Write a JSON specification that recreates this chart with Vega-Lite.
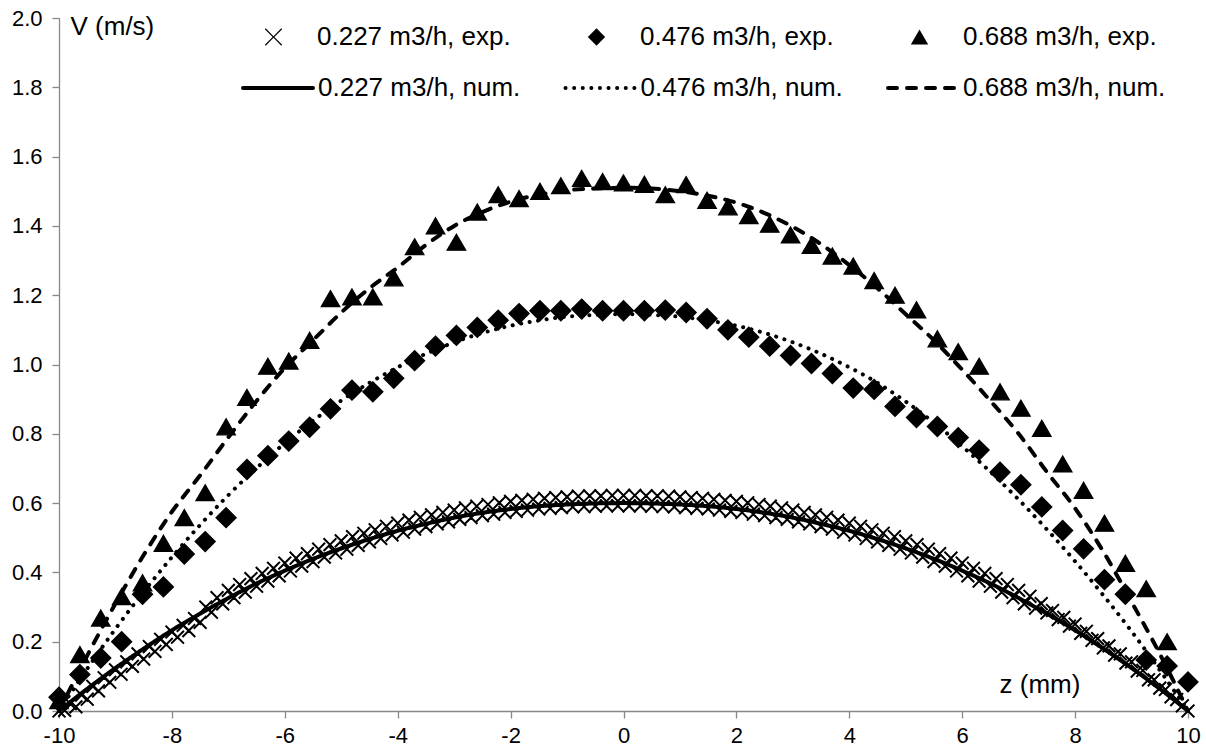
{
"$schema": "https://vega.github.io/schema/vega-lite/v6.json",
"width": 1129, "height": 693,
"autosize": {"type": "none"},
"padding": {"left": 59, "top": 18, "right": 18, "bottom": 36},
"background": "white",
"config": {
  "font": "Liberation Sans",
  "view": {"stroke": null},
  "axis": {"grid": false, "domainColor": "#888888", "domainWidth": 1.3, "tickColor": "#888888", "tickWidth": 1.3, "tickSize": 7, "labelFontSize": 22, "labelColor": "#000000", "labelFlush": false, "labelOverlap": false, "titleFontSize": 26, "titleFontWeight": "normal", "titleColor": "#000000", "titleAngle": 0, "titleAlign": "left", "titleBaseline": "alphabetic"},
  "legend": {"labelFontSize": 26, "labelColor": "#000000", "labelLimit": 400, "padding": 0, "title": null}
},
"datasets": {
"num": [
{"z":-10,"v":0,"curve":"0.227 m3/h, num."},{"z":-9.5,"v":0.064,"curve":"0.227 m3/h, num."},{"z":-9,"v":0.124,"curve":"0.227 m3/h, num."},{"z":-8.5,"v":0.18,"curve":"0.227 m3/h, num."},{"z":-8,"v":0.233,"curve":"0.227 m3/h, num."},{"z":-7.5,"v":0.281,"curve":"0.227 m3/h, num."},{"z":-7,"v":0.326,"curve":"0.227 m3/h, num."},{"z":-6.5,"v":0.368,"curve":"0.227 m3/h, num."},{"z":-6,"v":0.405,"curve":"0.227 m3/h, num."},{"z":-5.5,"v":0.439,"curve":"0.227 m3/h, num."},{"z":-5,"v":0.469,"curve":"0.227 m3/h, num."},{"z":-4.5,"v":0.496,"curve":"0.227 m3/h, num."},{"z":-4,"v":0.52,"curve":"0.227 m3/h, num."},{"z":-3.5,"v":0.54,"curve":"0.227 m3/h, num."},{"z":-3,"v":0.558,"curve":"0.227 m3/h, num."},{"z":-2.5,"v":0.572,"curve":"0.227 m3/h, num."},{"z":-2,"v":0.583,"curve":"0.227 m3/h, num."},{"z":-1.5,"v":0.591,"curve":"0.227 m3/h, num."},{"z":-1,"v":0.596,"curve":"0.227 m3/h, num."},{"z":-0.5,"v":0.599,"curve":"0.227 m3/h, num."},{"z":0,"v":0.6,"curve":"0.227 m3/h, num."},{"z":0.5,"v":0.599,"curve":"0.227 m3/h, num."},{"z":1,"v":0.596,"curve":"0.227 m3/h, num."},{"z":1.5,"v":0.591,"curve":"0.227 m3/h, num."},{"z":2,"v":0.583,"curve":"0.227 m3/h, num."},{"z":2.5,"v":0.572,"curve":"0.227 m3/h, num."},{"z":3,"v":0.558,"curve":"0.227 m3/h, num."},{"z":3.5,"v":0.54,"curve":"0.227 m3/h, num."},{"z":4,"v":0.52,"curve":"0.227 m3/h, num."},{"z":4.5,"v":0.496,"curve":"0.227 m3/h, num."},{"z":5,"v":0.469,"curve":"0.227 m3/h, num."},{"z":5.5,"v":0.439,"curve":"0.227 m3/h, num."},{"z":6,"v":0.405,"curve":"0.227 m3/h, num."},{"z":6.5,"v":0.368,"curve":"0.227 m3/h, num."},{"z":7,"v":0.326,"curve":"0.227 m3/h, num."},{"z":7.5,"v":0.281,"curve":"0.227 m3/h, num."},{"z":8,"v":0.233,"curve":"0.227 m3/h, num."},{"z":8.5,"v":0.18,"curve":"0.227 m3/h, num."},{"z":9,"v":0.124,"curve":"0.227 m3/h, num."},{"z":9.5,"v":0.064,"curve":"0.227 m3/h, num."},{"z":10,"v":0,"curve":"0.227 m3/h, num."},
{"z":-10,"v":0,"curve":"0.476 m3/h, num."},{"z":-9.5,"v":0.122,"curve":"0.476 m3/h, num."},{"z":-9,"v":0.237,"curve":"0.476 m3/h, num."},{"z":-8.5,"v":0.344,"curve":"0.476 m3/h, num."},{"z":-8,"v":0.444,"curve":"0.476 m3/h, num."},{"z":-7.5,"v":0.537,"curve":"0.476 m3/h, num."},{"z":-7,"v":0.623,"curve":"0.476 m3/h, num."},{"z":-6.5,"v":0.701,"curve":"0.476 m3/h, num."},{"z":-6,"v":0.773,"curve":"0.476 m3/h, num."},{"z":-5.5,"v":0.838,"curve":"0.476 m3/h, num."},{"z":-5,"v":0.896,"curve":"0.476 m3/h, num."},{"z":-4.5,"v":0.947,"curve":"0.476 m3/h, num."},{"z":-4,"v":0.992,"curve":"0.476 m3/h, num."},{"z":-3.5,"v":1.031,"curve":"0.476 m3/h, num."},{"z":-3,"v":1.064,"curve":"0.476 m3/h, num."},{"z":-2.5,"v":1.091,"curve":"0.476 m3/h, num."},{"z":-2,"v":1.112,"curve":"0.476 m3/h, num."},{"z":-1.5,"v":1.127,"curve":"0.476 m3/h, num."},{"z":-1,"v":1.138,"curve":"0.476 m3/h, num."},{"z":-0.5,"v":1.143,"curve":"0.476 m3/h, num."},{"z":0,"v":1.145,"curve":"0.476 m3/h, num."},{"z":0.5,"v":1.143,"curve":"0.476 m3/h, num."},{"z":1,"v":1.138,"curve":"0.476 m3/h, num."},{"z":1.5,"v":1.127,"curve":"0.476 m3/h, num."},{"z":2,"v":1.112,"curve":"0.476 m3/h, num."},{"z":2.5,"v":1.091,"curve":"0.476 m3/h, num."},{"z":3,"v":1.064,"curve":"0.476 m3/h, num."},{"z":3.5,"v":1.031,"curve":"0.476 m3/h, num."},{"z":4,"v":0.992,"curve":"0.476 m3/h, num."},{"z":4.5,"v":0.947,"curve":"0.476 m3/h, num."},{"z":5,"v":0.893,"curve":"0.476 m3/h, num."},{"z":5.5,"v":0.832,"curve":"0.476 m3/h, num."},{"z":6,"v":0.764,"curve":"0.476 m3/h, num."},{"z":6.5,"v":0.69,"curve":"0.476 m3/h, num."},{"z":7,"v":0.61,"curve":"0.476 m3/h, num."},{"z":7.5,"v":0.524,"curve":"0.476 m3/h, num."},{"z":8,"v":0.432,"curve":"0.476 m3/h, num."},{"z":8.5,"v":0.334,"curve":"0.476 m3/h, num."},{"z":9,"v":0.23,"curve":"0.476 m3/h, num."},{"z":9.5,"v":0.118,"curve":"0.476 m3/h, num."},{"z":10,"v":0,"curve":"0.476 m3/h, num."},
{"z":-10,"v":0,"curve":"0.688 m3/h, num."},{"z":-9.5,"v":0.16,"curve":"0.688 m3/h, num."},{"z":-9,"v":0.31,"curve":"0.688 m3/h, num."},{"z":-8.5,"v":0.45,"curve":"0.688 m3/h, num."},{"z":-8,"v":0.575,"curve":"0.688 m3/h, num."},{"z":-7.5,"v":0.68,"curve":"0.688 m3/h, num."},{"z":-7,"v":0.79,"curve":"0.688 m3/h, num."},{"z":-6.5,"v":0.895,"curve":"0.688 m3/h, num."},{"z":-6,"v":0.99,"curve":"0.688 m3/h, num."},{"z":-5.5,"v":1.07,"curve":"0.688 m3/h, num."},{"z":-5,"v":1.15,"curve":"0.688 m3/h, num."},{"z":-4.5,"v":1.22,"curve":"0.688 m3/h, num."},{"z":-4,"v":1.28,"curve":"0.688 m3/h, num."},{"z":-3.5,"v":1.345,"curve":"0.688 m3/h, num."},{"z":-3,"v":1.4,"curve":"0.688 m3/h, num."},{"z":-2.5,"v":1.44,"curve":"0.688 m3/h, num."},{"z":-2,"v":1.47,"curve":"0.688 m3/h, num."},{"z":-1.5,"v":1.49,"curve":"0.688 m3/h, num."},{"z":-1,"v":1.503,"curve":"0.688 m3/h, num."},{"z":-0.5,"v":1.508,"curve":"0.688 m3/h, num."},{"z":0,"v":1.51,"curve":"0.688 m3/h, num."},{"z":0.5,"v":1.508,"curve":"0.688 m3/h, num."},{"z":1,"v":1.5,"curve":"0.688 m3/h, num."},{"z":1.5,"v":1.487,"curve":"0.688 m3/h, num."},{"z":2,"v":1.467,"curve":"0.688 m3/h, num."},{"z":2.5,"v":1.437,"curve":"0.688 m3/h, num."},{"z":3,"v":1.397,"curve":"0.688 m3/h, num."},{"z":3.5,"v":1.347,"curve":"0.688 m3/h, num."},{"z":4,"v":1.287,"curve":"0.688 m3/h, num."},{"z":4.5,"v":1.22,"curve":"0.688 m3/h, num."},{"z":5,"v":1.145,"curve":"0.688 m3/h, num."},{"z":5.5,"v":1.07,"curve":"0.688 m3/h, num."},{"z":6,"v":0.985,"curve":"0.688 m3/h, num."},{"z":6.5,"v":0.895,"curve":"0.688 m3/h, num."},{"z":7,"v":0.8,"curve":"0.688 m3/h, num."},{"z":7.5,"v":0.69,"curve":"0.688 m3/h, num."},{"z":8,"v":0.585,"curve":"0.688 m3/h, num."},{"z":8.5,"v":0.46,"curve":"0.688 m3/h, num."},{"z":9,"v":0.315,"curve":"0.688 m3/h, num."},{"z":9.5,"v":0.165,"curve":"0.688 m3/h, num."},{"z":10,"v":0,"curve":"0.688 m3/h, num."}
],
"exp": [
{"z":-10,"v":0,"profile":"0.227 m3/h, exp."},{"z":-9.9,"v":0.002,"profile":"0.227 m3/h, exp."},{"z":-9.8,"v":0.021,"profile":"0.227 m3/h, exp."},{"z":-9.7,"v":0.012,"profile":"0.227 m3/h, exp."},{"z":-9.6,"v":0.046,"profile":"0.227 m3/h, exp."},{"z":-9.5,"v":0.034,"profile":"0.227 m3/h, exp."},{"z":-9.4,"v":0.071,"profile":"0.227 m3/h, exp."},{"z":-9.3,"v":0.058,"profile":"0.227 m3/h, exp."},{"z":-9.2,"v":0.096,"profile":"0.227 m3/h, exp."},{"z":-9.1,"v":0.083,"profile":"0.227 m3/h, exp."},{"z":-9,"v":0.119,"profile":"0.227 m3/h, exp."},{"z":-8.9,"v":0.106,"profile":"0.227 m3/h, exp."},{"z":-8.8,"v":0.142,"profile":"0.227 m3/h, exp."},{"z":-8.7,"v":0.129,"profile":"0.227 m3/h, exp."},{"z":-8.6,"v":0.165,"profile":"0.227 m3/h, exp."},{"z":-8.5,"v":0.15,"profile":"0.227 m3/h, exp."},{"z":-8.4,"v":0.186,"profile":"0.227 m3/h, exp."},{"z":-8.3,"v":0.172,"profile":"0.227 m3/h, exp."},{"z":-8.2,"v":0.207,"profile":"0.227 m3/h, exp."},{"z":-8.1,"v":0.192,"profile":"0.227 m3/h, exp."},{"z":-8,"v":0.228,"profile":"0.227 m3/h, exp."},{"z":-7.9,"v":0.213,"profile":"0.227 m3/h, exp."},{"z":-7.8,"v":0.247,"profile":"0.227 m3/h, exp."},{"z":-7.7,"v":0.232,"profile":"0.227 m3/h, exp."},{"z":-7.6,"v":0.267,"profile":"0.227 m3/h, exp."},{"z":-7.5,"v":0.256,"profile":"0.227 m3/h, exp."},{"z":-7.4,"v":0.3,"profile":"0.227 m3/h, exp."},{"z":-7.3,"v":0.285,"profile":"0.227 m3/h, exp."},{"z":-7.2,"v":0.327,"profile":"0.227 m3/h, exp."},{"z":-7.1,"v":0.309,"profile":"0.227 m3/h, exp."},{"z":-7,"v":0.348,"profile":"0.227 m3/h, exp."},{"z":-6.9,"v":0.327,"profile":"0.227 m3/h, exp."},{"z":-6.8,"v":0.365,"profile":"0.227 m3/h, exp."},{"z":-6.7,"v":0.343,"profile":"0.227 m3/h, exp."},{"z":-6.6,"v":0.382,"profile":"0.227 m3/h, exp."},{"z":-6.5,"v":0.36,"profile":"0.227 m3/h, exp."},{"z":-6.4,"v":0.397,"profile":"0.227 m3/h, exp."},{"z":-6.3,"v":0.375,"profile":"0.227 m3/h, exp."},{"z":-6.2,"v":0.412,"profile":"0.227 m3/h, exp."},{"z":-6.1,"v":0.39,"profile":"0.227 m3/h, exp."},{"z":-6,"v":0.427,"profile":"0.227 m3/h, exp."},{"z":-5.9,"v":0.404,"profile":"0.227 m3/h, exp."},{"z":-5.8,"v":0.441,"profile":"0.227 m3/h, exp."},{"z":-5.7,"v":0.418,"profile":"0.227 m3/h, exp."},{"z":-5.6,"v":0.454,"profile":"0.227 m3/h, exp."},{"z":-5.5,"v":0.431,"profile":"0.227 m3/h, exp."},{"z":-5.4,"v":0.467,"profile":"0.227 m3/h, exp."},{"z":-5.3,"v":0.444,"profile":"0.227 m3/h, exp."},{"z":-5.2,"v":0.48,"profile":"0.227 m3/h, exp."},{"z":-5.1,"v":0.456,"profile":"0.227 m3/h, exp."},{"z":-5,"v":0.491,"profile":"0.227 m3/h, exp."},{"z":-4.9,"v":0.467,"profile":"0.227 m3/h, exp."},{"z":-4.8,"v":0.503,"profile":"0.227 m3/h, exp."},{"z":-4.7,"v":0.478,"profile":"0.227 m3/h, exp."},{"z":-4.6,"v":0.513,"profile":"0.227 m3/h, exp."},{"z":-4.5,"v":0.488,"profile":"0.227 m3/h, exp."},{"z":-4.4,"v":0.523,"profile":"0.227 m3/h, exp."},{"z":-4.3,"v":0.498,"profile":"0.227 m3/h, exp."},{"z":-4.2,"v":0.533,"profile":"0.227 m3/h, exp."},{"z":-4.1,"v":0.508,"profile":"0.227 m3/h, exp."},{"z":-4,"v":0.542,"profile":"0.227 m3/h, exp."},{"z":-3.9,"v":0.516,"profile":"0.227 m3/h, exp."},{"z":-3.8,"v":0.551,"profile":"0.227 m3/h, exp."},{"z":-3.7,"v":0.525,"profile":"0.227 m3/h, exp."},{"z":-3.6,"v":0.559,"profile":"0.227 m3/h, exp."},{"z":-3.5,"v":0.532,"profile":"0.227 m3/h, exp."},{"z":-3.4,"v":0.566,"profile":"0.227 m3/h, exp."},{"z":-3.3,"v":0.54,"profile":"0.227 m3/h, exp."},{"z":-3.2,"v":0.573,"profile":"0.227 m3/h, exp."},{"z":-3.1,"v":0.546,"profile":"0.227 m3/h, exp."},{"z":-3,"v":0.58,"profile":"0.227 m3/h, exp."},{"z":-2.9,"v":0.553,"profile":"0.227 m3/h, exp."},{"z":-2.8,"v":0.586,"profile":"0.227 m3/h, exp."},{"z":-2.7,"v":0.558,"profile":"0.227 m3/h, exp."},{"z":-2.6,"v":0.591,"profile":"0.227 m3/h, exp."},{"z":-2.5,"v":0.564,"profile":"0.227 m3/h, exp."},{"z":-2.4,"v":0.596,"profile":"0.227 m3/h, exp."},{"z":-2.3,"v":0.568,"profile":"0.227 m3/h, exp."},{"z":-2.2,"v":0.601,"profile":"0.227 m3/h, exp."},{"z":-2.1,"v":0.573,"profile":"0.227 m3/h, exp."},{"z":-2,"v":0.605,"profile":"0.227 m3/h, exp."},{"z":-1.9,"v":0.576,"profile":"0.227 m3/h, exp."},{"z":-1.8,"v":0.608,"profile":"0.227 m3/h, exp."},{"z":-1.7,"v":0.58,"profile":"0.227 m3/h, exp."},{"z":-1.6,"v":0.611,"profile":"0.227 m3/h, exp."},{"z":-1.5,"v":0.583,"profile":"0.227 m3/h, exp."},{"z":-1.4,"v":0.614,"profile":"0.227 m3/h, exp."},{"z":-1.3,"v":0.585,"profile":"0.227 m3/h, exp."},{"z":-1.2,"v":0.616,"profile":"0.227 m3/h, exp."},{"z":-1.1,"v":0.587,"profile":"0.227 m3/h, exp."},{"z":-1,"v":0.618,"profile":"0.227 m3/h, exp."},{"z":-0.9,"v":0.589,"profile":"0.227 m3/h, exp."},{"z":-0.8,"v":0.62,"profile":"0.227 m3/h, exp."},{"z":-0.7,"v":0.59,"profile":"0.227 m3/h, exp."},{"z":-0.6,"v":0.621,"profile":"0.227 m3/h, exp."},{"z":-0.5,"v":0.591,"profile":"0.227 m3/h, exp."},{"z":-0.4,"v":0.621,"profile":"0.227 m3/h, exp."},{"z":-0.3,"v":0.592,"profile":"0.227 m3/h, exp."},{"z":-0.2,"v":0.622,"profile":"0.227 m3/h, exp."},{"z":-0.1,"v":0.592,"profile":"0.227 m3/h, exp."},{"z":0,"v":0.622,"profile":"0.227 m3/h, exp."},{"z":0.1,"v":0.592,"profile":"0.227 m3/h, exp."},{"z":0.2,"v":0.622,"profile":"0.227 m3/h, exp."},{"z":0.3,"v":0.592,"profile":"0.227 m3/h, exp."},{"z":0.4,"v":0.621,"profile":"0.227 m3/h, exp."},{"z":0.5,"v":0.591,"profile":"0.227 m3/h, exp."},{"z":0.6,"v":0.621,"profile":"0.227 m3/h, exp."},{"z":0.7,"v":0.59,"profile":"0.227 m3/h, exp."},{"z":0.8,"v":0.62,"profile":"0.227 m3/h, exp."},{"z":0.9,"v":0.589,"profile":"0.227 m3/h, exp."},{"z":1,"v":0.618,"profile":"0.227 m3/h, exp."},{"z":1.1,"v":0.587,"profile":"0.227 m3/h, exp."},{"z":1.2,"v":0.616,"profile":"0.227 m3/h, exp."},{"z":1.3,"v":0.585,"profile":"0.227 m3/h, exp."},{"z":1.4,"v":0.614,"profile":"0.227 m3/h, exp."},{"z":1.5,"v":0.583,"profile":"0.227 m3/h, exp."},{"z":1.6,"v":0.611,"profile":"0.227 m3/h, exp."},{"z":1.7,"v":0.58,"profile":"0.227 m3/h, exp."},{"z":1.8,"v":0.608,"profile":"0.227 m3/h, exp."},{"z":1.9,"v":0.576,"profile":"0.227 m3/h, exp."},{"z":2,"v":0.605,"profile":"0.227 m3/h, exp."},{"z":2.1,"v":0.573,"profile":"0.227 m3/h, exp."},{"z":2.2,"v":0.601,"profile":"0.227 m3/h, exp."},{"z":2.3,"v":0.568,"profile":"0.227 m3/h, exp."},{"z":2.4,"v":0.596,"profile":"0.227 m3/h, exp."},{"z":2.5,"v":0.564,"profile":"0.227 m3/h, exp."},{"z":2.6,"v":0.591,"profile":"0.227 m3/h, exp."},{"z":2.7,"v":0.558,"profile":"0.227 m3/h, exp."},{"z":2.8,"v":0.586,"profile":"0.227 m3/h, exp."},{"z":2.9,"v":0.553,"profile":"0.227 m3/h, exp."},{"z":3,"v":0.58,"profile":"0.227 m3/h, exp."},{"z":3.1,"v":0.546,"profile":"0.227 m3/h, exp."},{"z":3.2,"v":0.573,"profile":"0.227 m3/h, exp."},{"z":3.3,"v":0.54,"profile":"0.227 m3/h, exp."},{"z":3.4,"v":0.566,"profile":"0.227 m3/h, exp."},{"z":3.5,"v":0.532,"profile":"0.227 m3/h, exp."},{"z":3.6,"v":0.559,"profile":"0.227 m3/h, exp."},{"z":3.7,"v":0.525,"profile":"0.227 m3/h, exp."},{"z":3.8,"v":0.551,"profile":"0.227 m3/h, exp."},{"z":3.9,"v":0.516,"profile":"0.227 m3/h, exp."},{"z":4,"v":0.542,"profile":"0.227 m3/h, exp."},{"z":4.1,"v":0.508,"profile":"0.227 m3/h, exp."},{"z":4.2,"v":0.533,"profile":"0.227 m3/h, exp."},{"z":4.3,"v":0.498,"profile":"0.227 m3/h, exp."},{"z":4.4,"v":0.523,"profile":"0.227 m3/h, exp."},{"z":4.5,"v":0.488,"profile":"0.227 m3/h, exp."},{"z":4.6,"v":0.513,"profile":"0.227 m3/h, exp."},{"z":4.7,"v":0.478,"profile":"0.227 m3/h, exp."},{"z":4.8,"v":0.503,"profile":"0.227 m3/h, exp."},{"z":4.9,"v":0.467,"profile":"0.227 m3/h, exp."},{"z":5,"v":0.491,"profile":"0.227 m3/h, exp."},{"z":5.1,"v":0.456,"profile":"0.227 m3/h, exp."},{"z":5.2,"v":0.48,"profile":"0.227 m3/h, exp."},{"z":5.3,"v":0.444,"profile":"0.227 m3/h, exp."},{"z":5.4,"v":0.467,"profile":"0.227 m3/h, exp."},{"z":5.5,"v":0.431,"profile":"0.227 m3/h, exp."},{"z":5.6,"v":0.454,"profile":"0.227 m3/h, exp."},{"z":5.7,"v":0.418,"profile":"0.227 m3/h, exp."},{"z":5.8,"v":0.441,"profile":"0.227 m3/h, exp."},{"z":5.9,"v":0.404,"profile":"0.227 m3/h, exp."},{"z":6,"v":0.427,"profile":"0.227 m3/h, exp."},{"z":6.1,"v":0.39,"profile":"0.227 m3/h, exp."},{"z":6.2,"v":0.412,"profile":"0.227 m3/h, exp."},{"z":6.3,"v":0.375,"profile":"0.227 m3/h, exp."},{"z":6.4,"v":0.397,"profile":"0.227 m3/h, exp."},{"z":6.5,"v":0.36,"profile":"0.227 m3/h, exp."},{"z":6.6,"v":0.382,"profile":"0.227 m3/h, exp."},{"z":6.7,"v":0.343,"profile":"0.227 m3/h, exp."},{"z":6.8,"v":0.365,"profile":"0.227 m3/h, exp."},{"z":6.9,"v":0.327,"profile":"0.227 m3/h, exp."},{"z":7,"v":0.348,"profile":"0.227 m3/h, exp."},{"z":7.1,"v":0.309,"profile":"0.227 m3/h, exp."},{"z":7.2,"v":0.331,"profile":"0.227 m3/h, exp."},{"z":7.3,"v":0.297,"profile":"0.227 m3/h, exp."},{"z":7.4,"v":0.31,"profile":"0.227 m3/h, exp."},{"z":7.5,"v":0.283,"profile":"0.227 m3/h, exp."},{"z":7.6,"v":0.29,"profile":"0.227 m3/h, exp."},{"z":7.7,"v":0.264,"profile":"0.227 m3/h, exp."},{"z":7.8,"v":0.27,"profile":"0.227 m3/h, exp."},{"z":7.9,"v":0.245,"profile":"0.227 m3/h, exp."},{"z":8,"v":0.251,"profile":"0.227 m3/h, exp."},{"z":8.1,"v":0.224,"profile":"0.227 m3/h, exp."},{"z":8.2,"v":0.23,"profile":"0.227 m3/h, exp."},{"z":8.3,"v":0.204,"profile":"0.227 m3/h, exp."},{"z":8.4,"v":0.209,"profile":"0.227 m3/h, exp."},{"z":8.5,"v":0.182,"profile":"0.227 m3/h, exp."},{"z":8.6,"v":0.188,"profile":"0.227 m3/h, exp."},{"z":8.7,"v":0.161,"profile":"0.227 m3/h, exp."},{"z":8.8,"v":0.165,"profile":"0.227 m3/h, exp."},{"z":8.9,"v":0.138,"profile":"0.227 m3/h, exp."},{"z":9,"v":0.142,"profile":"0.227 m3/h, exp."},{"z":9.1,"v":0.115,"profile":"0.227 m3/h, exp."},{"z":9.2,"v":0.117,"profile":"0.227 m3/h, exp."},{"z":9.3,"v":0.09,"profile":"0.227 m3/h, exp."},{"z":9.4,"v":0.09,"profile":"0.227 m3/h, exp."},{"z":9.5,"v":0.066,"profile":"0.227 m3/h, exp."},{"z":9.6,"v":0.062,"profile":"0.227 m3/h, exp."},{"z":9.7,"v":0.041,"profile":"0.227 m3/h, exp."},{"z":9.8,"v":0.033,"profile":"0.227 m3/h, exp."},{"z":9.9,"v":0.015,"profile":"0.227 m3/h, exp."},{"z":10,"v":0,"profile":"0.227 m3/h, exp."},
{"z":-10,"v":0.04,"profile":"0.476 m3/h, exp."},{"z":-9.63,"v":0.105,"profile":"0.476 m3/h, exp."},{"z":-9.26,"v":0.153,"profile":"0.476 m3/h, exp."},{"z":-8.89,"v":0.2,"profile":"0.476 m3/h, exp."},{"z":-8.52,"v":0.337,"profile":"0.476 m3/h, exp."},{"z":-8.15,"v":0.358,"profile":"0.476 m3/h, exp."},{"z":-7.78,"v":0.453,"profile":"0.476 m3/h, exp."},{"z":-7.41,"v":0.489,"profile":"0.476 m3/h, exp."},{"z":-7.04,"v":0.558,"profile":"0.476 m3/h, exp."},{"z":-6.67,"v":0.697,"profile":"0.476 m3/h, exp."},{"z":-6.3,"v":0.737,"profile":"0.476 m3/h, exp."},{"z":-5.93,"v":0.779,"profile":"0.476 m3/h, exp."},{"z":-5.56,"v":0.819,"profile":"0.476 m3/h, exp."},{"z":-5.19,"v":0.872,"profile":"0.476 m3/h, exp."},{"z":-4.81,"v":0.926,"profile":"0.476 m3/h, exp."},{"z":-4.44,"v":0.921,"profile":"0.476 m3/h, exp."},{"z":-4.07,"v":0.96,"profile":"0.476 m3/h, exp."},{"z":-3.7,"v":1.011,"profile":"0.476 m3/h, exp."},{"z":-3.33,"v":1.053,"profile":"0.476 m3/h, exp."},{"z":-2.96,"v":1.084,"profile":"0.476 m3/h, exp."},{"z":-2.59,"v":1.107,"profile":"0.476 m3/h, exp."},{"z":-2.22,"v":1.128,"profile":"0.476 m3/h, exp."},{"z":-1.85,"v":1.147,"profile":"0.476 m3/h, exp."},{"z":-1.48,"v":1.155,"profile":"0.476 m3/h, exp."},{"z":-1.11,"v":1.155,"profile":"0.476 m3/h, exp."},{"z":-0.74,"v":1.16,"profile":"0.476 m3/h, exp."},{"z":-0.37,"v":1.155,"profile":"0.476 m3/h, exp."},{"z":0,"v":1.155,"profile":"0.476 m3/h, exp."},{"z":0.37,"v":1.155,"profile":"0.476 m3/h, exp."},{"z":0.74,"v":1.157,"profile":"0.476 m3/h, exp."},{"z":1.11,"v":1.15,"profile":"0.476 m3/h, exp."},{"z":1.48,"v":1.132,"profile":"0.476 m3/h, exp."},{"z":1.85,"v":1.1,"profile":"0.476 m3/h, exp."},{"z":2.22,"v":1.079,"profile":"0.476 m3/h, exp."},{"z":2.59,"v":1.053,"profile":"0.476 m3/h, exp."},{"z":2.96,"v":1.026,"profile":"0.476 m3/h, exp."},{"z":3.33,"v":1.003,"profile":"0.476 m3/h, exp."},{"z":3.7,"v":0.974,"profile":"0.476 m3/h, exp."},{"z":4.07,"v":0.932,"profile":"0.476 m3/h, exp."},{"z":4.44,"v":0.928,"profile":"0.476 m3/h, exp."},{"z":4.81,"v":0.879,"profile":"0.476 m3/h, exp."},{"z":5.19,"v":0.847,"profile":"0.476 m3/h, exp."},{"z":5.56,"v":0.821,"profile":"0.476 m3/h, exp."},{"z":5.93,"v":0.789,"profile":"0.476 m3/h, exp."},{"z":6.3,"v":0.753,"profile":"0.476 m3/h, exp."},{"z":6.67,"v":0.689,"profile":"0.476 m3/h, exp."},{"z":7.04,"v":0.653,"profile":"0.476 m3/h, exp."},{"z":7.41,"v":0.589,"profile":"0.476 m3/h, exp."},{"z":7.78,"v":0.521,"profile":"0.476 m3/h, exp."},{"z":8.15,"v":0.468,"profile":"0.476 m3/h, exp."},{"z":8.52,"v":0.379,"profile":"0.476 m3/h, exp."},{"z":8.89,"v":0.337,"profile":"0.476 m3/h, exp."},{"z":9.26,"v":0.147,"profile":"0.476 m3/h, exp."},{"z":9.63,"v":0.13,"profile":"0.476 m3/h, exp."},{"z":10,"v":0.084,"profile":"0.476 m3/h, exp."},
{"z":-10,"v":0.03,"profile":"0.688 m3/h, exp."},{"z":-9.63,"v":0.163,"profile":"0.688 m3/h, exp."},{"z":-9.26,"v":0.268,"profile":"0.688 m3/h, exp."},{"z":-8.89,"v":0.33,"profile":"0.688 m3/h, exp."},{"z":-8.52,"v":0.37,"profile":"0.688 m3/h, exp."},{"z":-8.15,"v":0.484,"profile":"0.688 m3/h, exp."},{"z":-7.78,"v":0.558,"profile":"0.688 m3/h, exp."},{"z":-7.41,"v":0.63,"profile":"0.688 m3/h, exp."},{"z":-7.04,"v":0.82,"profile":"0.688 m3/h, exp."},{"z":-6.67,"v":0.905,"profile":"0.688 m3/h, exp."},{"z":-6.3,"v":0.995,"profile":"0.688 m3/h, exp."},{"z":-5.93,"v":1.01,"profile":"0.688 m3/h, exp."},{"z":-5.56,"v":1.07,"profile":"0.688 m3/h, exp."},{"z":-5.19,"v":1.19,"profile":"0.688 m3/h, exp."},{"z":-4.81,"v":1.195,"profile":"0.688 m3/h, exp."},{"z":-4.44,"v":1.195,"profile":"0.688 m3/h, exp."},{"z":-4.07,"v":1.25,"profile":"0.688 m3/h, exp."},{"z":-3.7,"v":1.34,"profile":"0.688 m3/h, exp."},{"z":-3.33,"v":1.4,"profile":"0.688 m3/h, exp."},{"z":-2.96,"v":1.353,"profile":"0.688 m3/h, exp."},{"z":-2.59,"v":1.44,"profile":"0.688 m3/h, exp."},{"z":-2.22,"v":1.49,"profile":"0.688 m3/h, exp."},{"z":-1.85,"v":1.479,"profile":"0.688 m3/h, exp."},{"z":-1.48,"v":1.5,"profile":"0.688 m3/h, exp."},{"z":-1.11,"v":1.516,"profile":"0.688 m3/h, exp."},{"z":-0.74,"v":1.537,"profile":"0.688 m3/h, exp."},{"z":-0.37,"v":1.528,"profile":"0.688 m3/h, exp."},{"z":0,"v":1.524,"profile":"0.688 m3/h, exp."},{"z":0.37,"v":1.52,"profile":"0.688 m3/h, exp."},{"z":0.74,"v":1.49,"profile":"0.688 m3/h, exp."},{"z":1.11,"v":1.519,"profile":"0.688 m3/h, exp."},{"z":1.48,"v":1.474,"profile":"0.688 m3/h, exp."},{"z":1.85,"v":1.455,"profile":"0.688 m3/h, exp."},{"z":2.22,"v":1.43,"profile":"0.688 m3/h, exp."},{"z":2.59,"v":1.405,"profile":"0.688 m3/h, exp."},{"z":2.96,"v":1.374,"profile":"0.688 m3/h, exp."},{"z":3.33,"v":1.344,"profile":"0.688 m3/h, exp."},{"z":3.7,"v":1.313,"profile":"0.688 m3/h, exp."},{"z":4.07,"v":1.284,"profile":"0.688 m3/h, exp."},{"z":4.44,"v":1.242,"profile":"0.688 m3/h, exp."},{"z":4.81,"v":1.2,"profile":"0.688 m3/h, exp."},{"z":5.19,"v":1.158,"profile":"0.688 m3/h, exp."},{"z":5.56,"v":1.074,"profile":"0.688 m3/h, exp."},{"z":5.93,"v":1.037,"profile":"0.688 m3/h, exp."},{"z":6.3,"v":0.995,"profile":"0.688 m3/h, exp."},{"z":6.67,"v":0.921,"profile":"0.688 m3/h, exp."},{"z":7.04,"v":0.874,"profile":"0.688 m3/h, exp."},{"z":7.41,"v":0.816,"profile":"0.688 m3/h, exp."},{"z":7.78,"v":0.713,"profile":"0.688 m3/h, exp."},{"z":8.15,"v":0.637,"profile":"0.688 m3/h, exp."},{"z":8.52,"v":0.542,"profile":"0.688 m3/h, exp."},{"z":8.89,"v":0.426,"profile":"0.688 m3/h, exp."},{"z":9.26,"v":0.353,"profile":"0.688 m3/h, exp."},{"z":9.63,"v":0.2,"profile":"0.688 m3/h, exp."}
]
},
"layer": [
{
  "data": {"name": "num"},
  "mark": {"type": "line", "interpolate": "monotone", "strokeWidth": 4, "strokeCap": "round", "color": "#000000"},
  "encoding": {
    "x": {"field": "z", "type": "quantitative", "scale": {"domain": [-10, 10], "nice": false},
          "axis": {"values": [-10,-8,-6,-4,-2,0,2,4,6,8,10], "labelExpr": "'' + datum.value", "labelPadding": 7, "title": "z (mm)", "titleX": 940, "titleY": -19}},
    "y": {"field": "v", "type": "quantitative", "scale": {"domain": [0, 2], "nice": false},
          "axis": {"values": [0,0.2,0.4,0.6,0.8,1,1.2,1.4,1.6,1.8,2], "format": ".1f", "labelPadding": 10, "title": "V (m/s)", "titleX": 11, "titleY": 16}},
    "strokeDash": {"field": "curve", "type": "nominal",
      "scale": {"domain": ["0.227 m3/h, num.", "0.476 m3/h, num.", "0.688 m3/h, num."], "range": [[1, 0], [0.1, 8.5], [9, 10]]},
      "legend": {"orient": "none", "legendX": 182, "legendY": 33, "direction": "horizontal", "columns": 3, "columnPadding": 36.5, "labelOffset": 3, "symbolSize": 4900, "symbolStrokeWidth": 4, "symbolStrokeColor": "#000000", "symbolType": "stroke",
        "encode": {"symbols": {"update": {"strokeCap": {"value": "round"}}}}}}
  }
},
{
  "data": {"name": "exp"},
  "transform": [{"filter": "datum.profile == '0.227 m3/h, exp.'"}],
  "mark": {"type": "point", "filled": true, "fill": "#000000", "stroke": "#000000", "strokeWidth": 1.1, "opacity": 1, "size": 160},
  "encoding": {
    "x": {"field": "z", "type": "quantitative"},
    "y": {"field": "v", "type": "quantitative"},
    "shape": {"field": "profile", "type": "nominal",
      "scale": {"domain": ["0.227 m3/h, exp.", "0.476 m3/h, exp.", "0.688 m3/h, exp."], "range": ["M-1,-0.9L-0.9,-1L0,-0.1L0.9,-1L1,-0.9L0.1,0L1,0.9L0.9,1L0,0.1L-0.9,1L-1,0.9L-0.1,0Z", "diamond", "triangle-up"]},
      "legend": {"orient": "none", "legendX": 201.5, "legendY": 6, "direction": "horizontal", "columns": 3, "columnPadding": 72, "labelOffset": 30.5, "symbolSize": 300, "symbolStrokeWidth": 0.6, "symbolFillColor": "#000000", "symbolStrokeColor": "#000000",
        "encode": {"symbols": {"update": {"stroke": {"value": "#000000"}, "strokeWidth": {"value": 0.6}, "fill": {"value": "#000000"}, "opacity": {"value": 1}}}}}}
  }
},
{
  "data": {"name": "exp"},
  "transform": [{"filter": "datum.profile == '0.476 m3/h, exp.'"}],
  "mark": {"type": "point", "filled": true, "fill": "#000000", "stroke": "#000000", "strokeWidth": 1.3, "opacity": 1, "size": 400},
  "encoding": {
    "x": {"field": "z", "type": "quantitative"},
    "y": {"field": "v", "type": "quantitative"},
    "shape": {"field": "profile", "type": "nominal"}
  }
},
{
  "data": {"name": "exp"},
  "transform": [{"filter": "datum.profile == '0.688 m3/h, exp.'"}],
  "mark": {"type": "point", "filled": true, "fill": "#000000", "stroke": "#000000", "strokeWidth": 1.3, "opacity": 1, "size": 340},
  "encoding": {
    "x": {"field": "z", "type": "quantitative"},
    "y": {"field": "v", "type": "quantitative"},
    "shape": {"field": "profile", "type": "nominal"}
  }
}
]
}
